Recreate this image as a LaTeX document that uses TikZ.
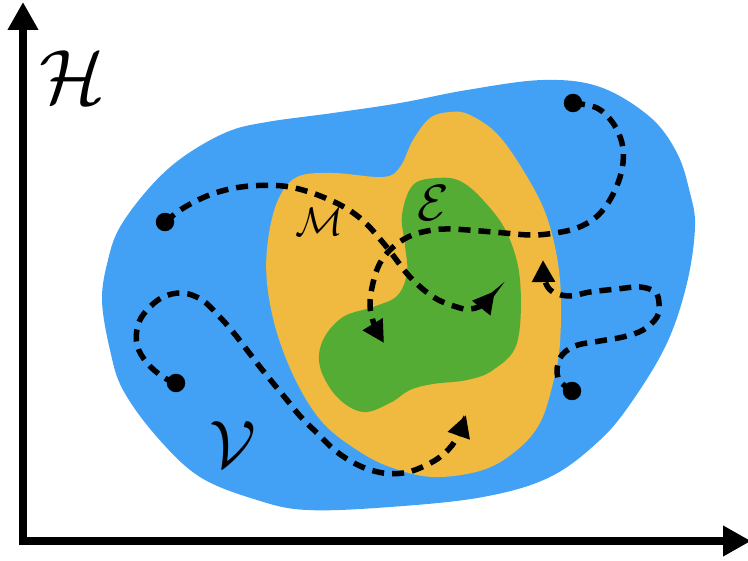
\documentclass[tikz,border=0pt]{standalone}
\usetikzlibrary{arrows.meta}
\definecolor{blueV}{RGB}{66,161,245}
\definecolor{orangeM}{RGB}{240,185,64}
\definecolor{greenE}{RGB}{84,172,52}
\begin{document}
\begin{tikzpicture}[x=1pt,y=-1pt,
  traj/.style={line width=5.5pt, dash pattern=on 12pt off 8pt,
    -{Triangle[length=22pt,width=22pt]}},
  dotnode/.style={circle, fill=black, inner sep=0pt, minimum size=18.5pt},
  lab/.style={font=\Huge, inner sep=0pt},
  axis/.style={line width=7.5pt, line join=miter,
    {Triangle[length=28pt,width=29pt]}-{Triangle[length=28pt,width=29pt]}}]
\useasboundingbox (0,0) rectangle (748,561);

% regions
\fill[blueV] plot[smooth cycle, tension=0.6] coordinates {
 (102,300) (110,350) (123,390) (157,437) (200,477) (257,500) (307,510)
 (390,507) (483,497) (550,477) (600,440) (633,400) (667,343) (687,283)
 (695,227) (690,193) (677,153) (650,117) (600,87) (543,80) (467,90)
 (400,103) (333,113) (267,122) (227,132) (183,157) (150,187) (120,227)
 (108,260)};
\fill[orangeM] plot[smooth cycle, tension=0.6] coordinates {
 (297,177) (333,173) (383,177) (400,167) (413,140) (430,118) (450,112)
 (470,115) (500,137) (533,187) (550,227) (560,280) (560,343) (553,383)
 (540,423) (517,450) (483,470) (433,477) (390,467) (357,450) (323,423)
 (297,383) (277,333) (267,283) (268,240) (278,200)};
\fill[greenE] plot[smooth cycle, tension=0.6] coordinates {
 (413,185) (437,178) (460,181) (483,200) (507,233) (520,280) (517,343)
 (493,370) (467,380) (433,384) (410,390) (390,403) (363,412) (337,397)
 (320,367) (323,340) (343,317) (373,307) (397,296) (407,273) (405,245)
 (402,215)};

% labels
\node[lab, scale=3.1] (H) at (72,77) {$\mathcal{H}$};
\node[lab, scale=1.6] (M) at (319,222) {$\mathcal{M}$};
\node[lab, scale=2.05] (E) at (433,203) {$\mathcal{E}$};
\node[lab, scale=2.7] (V) at (233,445) {$\mathcal{V}$};

% start points
\node[dotnode] (d1) at (165,222) {};
\node[dotnode] (d2) at (573,103) {};
\node[dotnode] (d3) at (176,383) {};
\node[dotnode] (d4) at (572,391) {};

% trajectories
\draw[traj] plot[smooth, tension=0.6] coordinates {
 (d1.center) (185,207) (215,193) (250,186) (290,187) (330,200) (360,218)
 (385,245) (410,277) (435,298) (460,308) (470,309) (482,305) (495,291)};
\draw[traj] plot[smooth, tension=0.6] coordinates {
 (d2.center) (597,108) (613,123) (622,143) (623,163) (618,183) (608,203)
 (595,218) (577,228) (555,233) (530,235) (493,232) (450,229) (427,231)
 (408,237) (392,248) (380,263) (373,283) (370,305) (374,324) (384,343)};
\draw[traj] plot[smooth, tension=0.6] coordinates {
 (d3.center) (163,377) (147,363) (137,345) (138,325) (147,310) (163,297)
 (183,293) (202,300) (218,315) (233,332) (247,350) (260,367) (273,383)
 (287,400) (300,416) (317,433) (337,452) (360,466) (383,473) (403,473)
 (420,468) (440,457) (455,441) (466,415)};
\draw[traj] plot[smooth, tension=0.6] coordinates {
 (d4.center) (558,378) (560,358) (575,346) (600,341) (623,337) (643,330)
 (657,317) (659,303) (655,292) (640,287) (617,289) (590,292) (570,296)
 (553,292) (545,281) (543,260)};

% axes
\coordinate (ytop) at (23,2);
\coordinate (O) at (23,541);
\coordinate (xend) at (751,541);
\draw[axis] (ytop) -- (O) -- (xend);
\end{tikzpicture}
\end{document}
